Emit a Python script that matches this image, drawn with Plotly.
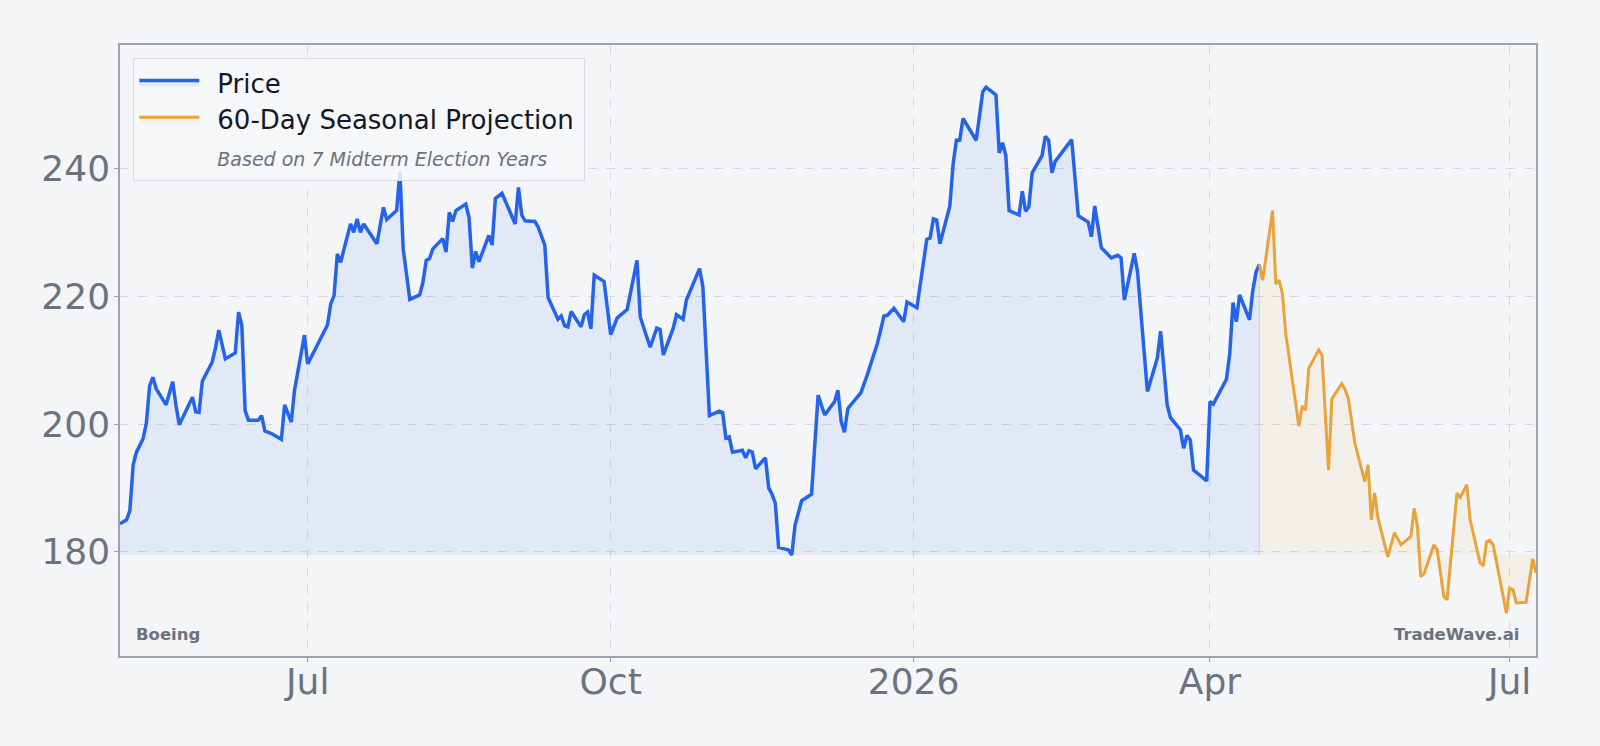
import plotly.graph_objects as go

# ---------------- data ----------------
price_dates = [
    "2025-05-05", "2025-05-07", "2025-05-08", "2025-05-09", "2025-05-10", "2025-05-12", "2025-05-13",
    "2025-05-14", "2025-05-15", "2025-05-16", "2025-05-19", "2025-05-21", "2025-05-22", "2025-05-23",
    "2025-05-27", "2025-05-28", "2025-05-29", "2025-05-30", "2025-06-02", "2025-06-03", "2025-06-04",
    "2025-06-06", "2025-06-09", "2025-06-10", "2025-06-11", "2025-06-12", "2025-06-13", "2025-06-16",
    "2025-06-17", "2025-06-18", "2025-06-20", "2025-06-23", "2025-06-24", "2025-06-26", "2025-06-27",
    "2025-06-30", "2025-07-01", "2025-07-03", "2025-07-07", "2025-07-08", "2025-07-09", "2025-07-10",
    "2025-07-11", "2025-07-14", "2025-07-15", "2025-07-16", "2025-07-17", "2025-07-18", "2025-07-22",
    "2025-07-24", "2025-07-25", "2025-07-28", "2025-07-29", "2025-07-30", "2025-08-01", "2025-08-04",
    "2025-08-05", "2025-08-06", "2025-08-07", "2025-08-08", "2025-08-11", "2025-08-12", "2025-08-13",
    "2025-08-14", "2025-08-15", "2025-08-18", "2025-08-19", "2025-08-20", "2025-08-21", "2025-08-22",
    "2025-08-25", "2025-08-26", "2025-08-27", "2025-08-29", "2025-09-02", "2025-09-03", "2025-09-04",
    "2025-09-05", "2025-09-08", "2025-09-09", "2025-09-11", "2025-09-12", "2025-09-15", "2025-09-16",
    "2025-09-17", "2025-09-18", "2025-09-19", "2025-09-22", "2025-09-23", "2025-09-24", "2025-09-25",
    "2025-09-26", "2025-09-29", "2025-10-01", "2025-10-03", "2025-10-06", "2025-10-09", "2025-10-10",
    "2025-10-13", "2025-10-15", "2025-10-16", "2025-10-17", "2025-10-20", "2025-10-21", "2025-10-23",
    "2025-10-24", "2025-10-28", "2025-10-29", "2025-10-31", "2025-11-03", "2025-11-04", "2025-11-05",
    "2025-11-06", "2025-11-07", "2025-11-10", "2025-11-11", "2025-11-12", "2025-11-13", "2025-11-14",
    "2025-11-17", "2025-11-18", "2025-11-19", "2025-11-20", "2025-11-21", "2025-11-24", "2025-11-25",
    "2025-11-26", "2025-11-28", "2025-12-01", "2025-12-03", "2025-12-05", "2025-12-08", "2025-12-09",
    "2025-12-10", "2025-12-11", "2025-12-12", "2025-12-16", "2025-12-18", "2025-12-21", "2025-12-23",
    "2025-12-24", "2025-12-26", "2025-12-29", "2025-12-30", "2026-01-02", "2026-01-05", "2026-01-06",
    "2026-01-07", "2026-01-08", "2026-01-09", "2026-01-12", "2026-01-13", "2026-01-14", "2026-01-15",
    "2026-01-16", "2026-01-20", "2026-01-22", "2026-01-23", "2026-01-26", "2026-01-27", "2026-01-28",
    "2026-01-29", "2026-01-30", "2026-02-02", "2026-02-03", "2026-02-04", "2026-02-05", "2026-02-06",
    "2026-02-09", "2026-02-10", "2026-02-11", "2026-02-12", "2026-02-13", "2026-02-18", "2026-02-20",
    "2026-02-23", "2026-02-24", "2026-02-25", "2026-02-27", "2026-03-02", "2026-03-04", "2026-03-05",
    "2026-03-06", "2026-03-09", "2026-03-10", "2026-03-13", "2026-03-16", "2026-03-17", "2026-03-19",
    "2026-03-20", "2026-03-23", "2026-03-24", "2026-03-25", "2026-03-26", "2026-03-27", "2026-03-31",
    "2026-04-01", "2026-04-02", "2026-04-06", "2026-04-07", "2026-04-08", "2026-04-09", "2026-04-10",
    "2026-04-13", "2026-04-14", "2026-04-15", "2026-04-16",
]
price_values = [
    184.4, 185.0, 186.5, 193.6, 195.6, 197.7, 200.1,
    206.0, 207.3, 205.5, 203.0, 206.6, 202.9, 199.9,
    204.2, 201.9, 201.8, 206.7, 209.7, 211.9, 214.7,
    210.2, 211.1, 217.5, 215.4, 202.1, 200.6, 200.6,
    201.3, 198.9, 198.5, 197.6, 203.0, 200.3, 205.3,
    213.9, 209.4, 211.5, 215.5, 218.8, 220.1, 226.6,
    225.3, 231.3, 230.0, 232.1, 230.0, 231.3, 228.2,
    233.9, 232.0, 233.4, 239.5, 227.4, 219.5, 220.2,
    222.2, 225.6, 225.9, 227.4, 229.0, 226.9, 233.1,
    231.7, 233.4, 234.4, 232.3, 224.4, 227.0, 225.4,
    229.5, 228.0, 235.3, 236.1, 231.3, 237.0, 232.7,
    231.8, 231.7, 230.8, 228.0, 219.8, 216.4, 216.9,
    215.4, 215.2, 217.6, 215.2, 217.1, 217.5, 214.9,
    223.3, 222.3, 214.0, 216.6, 217.9, 225.6, 216.7,
    212.0, 215.0, 214.8, 210.8, 215.0, 217.1, 216.4,
    219.4, 224.3, 221.5, 201.3, 202.0, 201.8, 197.8,
    198.0, 195.6, 195.9, 194.7, 195.8, 195.6, 193.0,
    194.7, 190.0, 189.0, 187.6, 180.7, 180.3, 179.5,
    184.2, 188.0, 189.0, 204.5, 201.4, 203.5, 205.3,
    200.4, 198.7, 202.4, 204.9, 207.8, 212.6, 216.9,
    217.0, 218.1, 216.0, 219.1, 218.2, 228.9, 229.1,
    232.1, 231.9, 228.2, 234.1, 240.7, 244.4, 244.4,
    247.8, 244.4, 252.0, 252.7, 251.5, 242.4, 244.0,
    242.0, 233.4, 232.7, 236.4, 233.3, 234.0, 239.3,
    242.0, 245.0, 244.4, 239.3, 241.1, 244.5, 232.6,
    231.6, 229.3, 234.1, 227.6, 226.0, 226.4, 226.0,
    219.4, 226.7, 223.8, 205.1, 210.3, 214.5, 203.0,
    201.0, 199.1, 196.2, 198.2, 197.5, 192.8, 191.1,
    203.5, 203.1, 207.0, 211.0, 219.0, 216.0, 220.2,
    216.3, 220.9, 223.8, 225.0,
]

proj_dates = [
    "2026-04-16", "2026-04-17", "2026-04-20", "2026-04-21", "2026-04-22", "2026-04-23", "2026-04-24",
    "2026-04-28", "2026-04-29", "2026-04-30", "2026-05-01", "2026-05-04", "2026-05-05", "2026-05-07",
    "2026-05-08", "2026-05-11", "2026-05-12", "2026-05-13", "2026-05-15", "2026-05-18", "2026-05-19",
    "2026-05-20", "2026-05-21", "2026-05-22", "2026-05-25", "2026-05-27", "2026-05-29", "2026-06-01",
    "2026-06-02", "2026-06-03", "2026-06-04", "2026-06-05", "2026-06-08", "2026-06-09", "2026-06-11",
    "2026-06-12", "2026-06-15", "2026-06-16", "2026-06-18", "2026-06-19", "2026-06-22", "2026-06-23",
    "2026-06-24", "2026-06-25", "2026-06-26", "2026-06-30", "2026-07-01", "2026-07-02", "2026-07-03",
    "2026-07-06", "2026-07-08", "2026-07-09",
]
proj_values = [
    225.0, 222.5, 233.4, 221.9, 222.5, 220.4, 214.2,
    199.7, 202.8, 202.2, 208.7, 211.6, 210.8, 192.8,
    203.9, 206.3, 205.4, 204.0, 197.0, 191.0, 193.6,
    185.0, 189.2, 185.3, 179.2, 183.0, 181.1, 182.4,
    186.8, 184.0, 176.1, 176.6, 181.1, 180.3, 173.0,
    172.5, 189.2, 188.5, 190.5, 185.0, 178.3, 177.8,
    181.6, 181.8, 181.1, 170.4, 174.3, 174.1, 172.0,
    172.1, 178.9, 176.7,
]

tick_dates = ["2025-07-01", "2025-10-01", "2026-01-01", "2026-04-01", "2026-07-01"]
tick_labels = ["Jul", "Oct", "2026", "Apr", "Jul"]
y_ticks = [180, 200, 220, 240]

legend_names = ["Price", "60-Day Seasonal Projection", "Based on 7 Midterm Election Years"]
company = "Boeing"
brand = "TradeWave.ai"

# ---------------- style ----------------
BG = "#f4f5f7"
BLUE = "#2563eb"
ORANGE = "#e8a33a"
GRAY_TXT = "#6b7280"
FRAME = "#9ca3af"
GRID = "#d5d9df"
FONT = "DejaVu Sans"
GAP = "\u2002"  # spacing between legend symbol and label

base = min(price_values)

fig = go.Figure()

# baseline + price with fill
fig.add_trace(go.Scatter(x=[price_dates[0], price_dates[-1]], y=[base, base], mode="lines",
                         line=dict(width=0, color="rgba(0,0,0,0)"), showlegend=False, hoverinfo="skip"))
fig.add_trace(go.Scatter(x=price_dates, y=price_values, mode="lines", name=GAP + legend_names[0],
                         line=dict(color=BLUE, width=3.5), fill="tonexty",
                         fillcolor="rgba(59,130,246,0.10)"))
# baseline + projection with fill
fig.add_trace(go.Scatter(x=[proj_dates[0], proj_dates[-1]], y=[base, base], mode="lines",
                         line=dict(width=0, color="rgba(0,0,0,0)"), showlegend=False, hoverinfo="skip"))
fig.add_trace(go.Scatter(x=proj_dates, y=proj_values, mode="lines", name=GAP + legend_names[1] + "\u2009",
                         line=dict(color=ORANGE, width=3), fill="tonexty",
                         fillcolor="rgba(232,163,58,0.08)"))
# faint edge of projection fill
fig.add_trace(go.Scatter(x=[proj_dates[0], proj_dates[0]], y=[base, proj_values[0]], mode="lines",
                         line=dict(color="rgba(170,160,150,0.35)", width=1),
                         showlegend=False, hoverinfo="skip"))
# subtitle legend entry
fig.add_trace(go.Scatter(x=[None], y=[None], mode="lines", line=dict(width=0, color="rgba(0,0,0,0)"),
                         name=GAP + f"<span style='font-size:19px;color:{GRAY_TXT}'><i>{legend_names[2]}</i></span>"))

fig.add_annotation(text=f"<b>{company}</b>", xref="paper", yref="paper", x=0.0101, y=0.036,
                   xanchor="left", yanchor="middle", showarrow=False,
                   font=dict(family=FONT, size=16.5, color=GRAY_TXT))
fig.add_annotation(text=f"<b>{brand}</b>", xref="paper", yref="paper", x=0.9896, y=0.036,
                   xanchor="right", yanchor="middle", showarrow=False,
                   font=dict(family=FONT, size=16.5, color=GRAY_TXT))

axis_common = dict(showline=True, linecolor=FRAME, linewidth=1.5, mirror=True,
                   ticks="outside", ticklen=4, tickcolor=FRAME,
                   showgrid=True, gridcolor=GRID, griddash="dash", gridwidth=1,
                   zeroline=False, tickfont=dict(family=FONT, size=36, color=GRAY_TXT))

fig.update_layout(
    width=1600, height=746,
    paper_bgcolor=BG, plot_bgcolor=BG,
    margin=dict(l=120, r=64, t=45, b=90),
    font=dict(family=FONT, color="#111827"),
    showlegend=True,
    legend=dict(x=0.0094, y=0.9786, xanchor="left", yanchor="top",
                bgcolor="rgba(246,247,249,0.85)", bordercolor="#d9dce1", borderwidth=1,
                font=dict(family=FONT, size=26, color="#111827"), itemwidth=60,
                traceorder="normal"),
    xaxis=dict(type="date", range=[price_dates[0], proj_dates[-1]],
               tickvals=tick_dates, ticktext=tick_labels, ticklabelstandoff=-11, **axis_common),
    yaxis=dict(range=[163.7, 259.3], tickvals=y_ticks, ticklabelstandoff=-3, **axis_common),
)

fig.write_html("out.html")
